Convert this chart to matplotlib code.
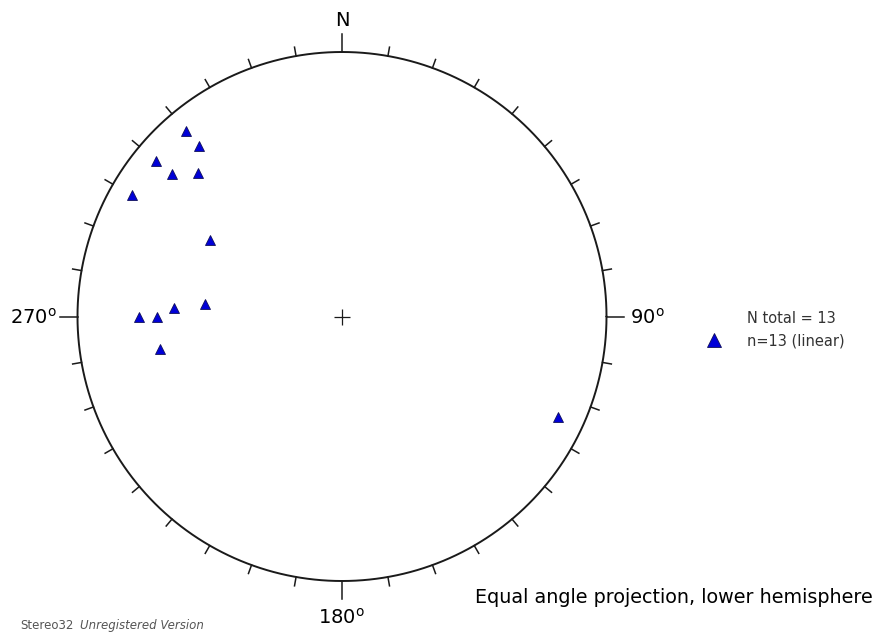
import numpy as np
import matplotlib
matplotlib.use("Agg")
import matplotlib.pyplot as plt

# Linear data: trend (azimuth, deg) and plunge (deg)
trend = [320, 320, 310, 310, 315, 300, 300, 275, 273, 270, 270, 260, 115]
plunge = [5, 10, 5, 10, 15, 5, 30, 35, 25, 15, 20, 20, 6]

direction_labels = ["N", "90$^\\mathregular{o}$", "180$^\\mathregular{o}$", "270$^\\mathregular{o}$"]
legend_lines = ["N total = 13", "n=13 (linear)"]
footer = "Equal angle projection, lower hemisphere"


def equal_angle(tr, pl):
    tr = np.radians(np.asarray(tr, float))
    pl = np.radians(np.asarray(pl, float))
    r = np.tan((np.pi / 2 - pl) / 2)
    return r * np.sin(tr), r * np.cos(tr)


W, H, DPI = 880, 633, 100
R_PX = 264.5
CX, CY = 342, 316.5

fig = plt.figure(figsize=(W / DPI, H / DPI), dpi=DPI)
ax = fig.add_axes([0, 0, 1, 1])
ax.set_xlim(-CX / R_PX, (W - CX) / R_PX)
ax.set_ylim(-(H - CY) / R_PX, CY / R_PX)
ax.axis("off")

# primitive circle
t = np.linspace(0, 2 * np.pi, 721)
ax.plot(np.cos(t), np.sin(t), color="#1a1a1a", lw=1.4, solid_capstyle="round")

# 10-degree ticks, longer at the cardinal directions
for az in range(0, 360, 10):
    a = np.radians(az)
    L = 0.068 if az % 90 == 0 else 0.034
    ax.plot([np.sin(a), (1 + L) * np.sin(a)], [np.cos(a), (1 + L) * np.cos(a)],
            color="#1a1a1a", lw=1.1)

# centre cross
ax.plot([0], [0], marker="+", color="#1a1a1a", ms=12, mew=0.9)

fs = 14
ax.text(0, 1.12, direction_labels[0], ha="center", va="center", fontsize=fs, family="DejaVu Sans")
ax.text(1.089, -0.005, direction_labels[1], ha="left", va="center", fontsize=fs, family="DejaVu Sans")
ax.text(0, -1.14, direction_labels[2], ha="center", va="center", fontsize=fs, family="DejaVu Sans")
ax.text(-1.0775, -0.005, direction_labels[3], ha="right", va="center", fontsize=fs, family="DejaVu Sans")

# data points
x, y = equal_angle(trend, plunge)
ax.plot(x, y, linestyle="none", marker="^", ms=7, mfc="#0000d8", mec="#10105a", mew=0.6)

# legend
ax.text(1.531, -0.0057, legend_lines[0], ha="left", va="center", fontsize=10.5, color="#333333")
ax.text(1.531, -0.0926, legend_lines[1], ha="left", va="center", fontsize=10.5, color="#333333")
ax.plot([1.406], [-0.089], linestyle="none", marker="^", ms=10, mfc="#0000d8", mec="#10105a", mew=0.6)

ax.text(0.503, -1.064, footer, ha="left", va="center", fontsize=13.8, color="black")

ax.text(-1.217, -1.193, "Stereo32", ha="left", va="bottom", fontsize=8.5, color="#555555")
ax.text(-0.99, -1.193, "Unregistered Version", ha="left", va="bottom", fontsize=8.5,
        color="#555555", style="italic")

fig.savefig("out.png", dpi=DPI, facecolor="white")
